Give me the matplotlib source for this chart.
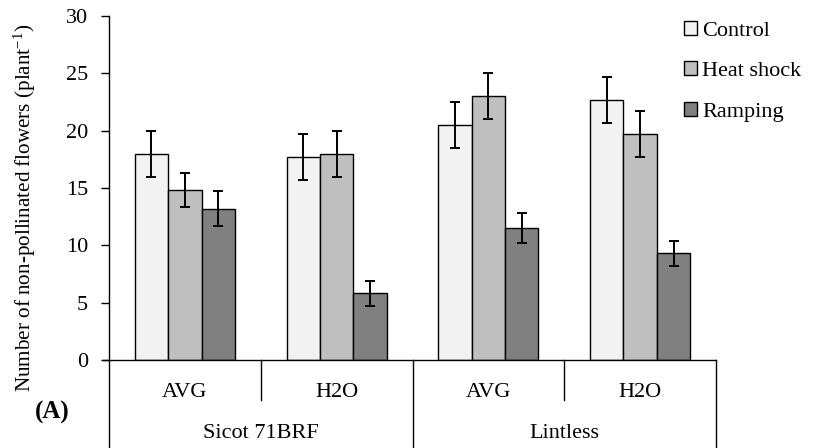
import matplotlib
matplotlib.use("Agg")
import matplotlib.pyplot as plt
from matplotlib.patches import Patch

plt.rcParams['font.family'] = ['Liberation Serif', 'DejaVu Serif']
plt.rcParams['mathtext.fontset'] = 'custom'
plt.rcParams['mathtext.rm'] = 'Liberation Serif'
plt.rcParams['mathtext.it'] = 'Liberation Serif'
plt.rcParams['mathtext.default'] = 'regular'

groups = ["AVG", "H2O", "AVG", "H2O"]
cultivars = ["Sicot 71BRF", "Lintless"]
series = ["Control", "Heat shock", "Ramping"]
control = [18.0, 17.7, 20.5, 22.7]
heat = [14.8, 18.0, 23.0, 19.7]
ramping = [13.2, 5.8, 11.5, 9.3]
control_err = [2.0, 2.0, 2.0, 2.0]
heat_err = [1.5, 2.0, 2.0, 2.0]
ramping_err = [1.5, 1.1, 1.3, 1.1]
yticks = [0, 5, 10, 15, 20, 25, 30]

colors = ["#F2F2F2", "#BFBFBF", "#808080"]
FS = 16

fig = plt.figure(figsize=(8.16, 4.48), dpi=100)
ax = fig.add_axes([109/816, 1-360/448, (716-109)/816, 344/448])

w = 0.22
offs = [-w, 0, w]
vals = [control, heat, ramping]
errs = [control_err, heat_err, ramping_err]
x = list(range(len(groups)))
for i in range(3):
    xs = [xi + offs[i] for xi in x]
    ax.bar(xs, vals[i], width=w, color=colors[i], edgecolor='black', linewidth=1.0, zorder=2)
    ax.errorbar(xs, vals[i], yerr=errs[i], fmt='none', ecolor='black',
                elinewidth=1.4, capsize=3.8, capthick=1.4, zorder=3)

ax.set_xlim(-0.5, 3.5)
ax.set_ylim(0, 30)
ax.set_yticks(yticks)
ax.tick_params(axis='y', direction='out', length=6, width=1, labelsize=FS, pad=9)
ax.set_xticks([])
for s in ['top', 'right', 'bottom']:
    ax.spines[s].set_visible(False)
ax.spines['left'].set_linewidth(1)

px = 30/344.0  # data units per pixel
ybot = -90 * px
yinner = -40 * px
ax.plot([-0.5 - 6/152, 3.5], [0, 0], color='black', lw=1, clip_on=False, zorder=4)
ax.plot([-0.5, -0.5], [0, ybot], color='black', lw=1, clip_on=False)
for xv in [1.5, 3.5]:
    ax.plot([xv, xv], [0, ybot], color='black', lw=1, clip_on=False)
for xv in [0.5, 2.5]:
    ax.plot([xv, xv], [0, yinner], color='black', lw=1, clip_on=False)
for xi, g in zip(x, groups):
    ax.text(xi, -32*px, g, ha='center', va='center', fontsize=FS, clip_on=False)
for ci, c in enumerate(cultivars):
    ax.text(0.5 + 2*ci, -73*px, c, ha='center', va='center', fontsize=FS, clip_on=False)

fig.text(25/816, 1-208/448, "Number of non-pollinated flowers (plant$^{-1}$)",
         fontsize=15.2, rotation=90, ha='center', va='center')

fig.text(52/816, 1-412/448, "(A)", fontsize=18, fontweight='bold', ha='center', va='center')

handles = [Patch(facecolor=colors[i], edgecolor='black', linewidth=1) for i in range(3)]
fig.legend(handles, series, loc='upper left', bbox_to_anchor=(684/816, 1-21/448),
           frameon=False, fontsize=FS, handlelength=0.6, handleheight=0.6,
           handletextpad=0.22, labelspacing=0.92, borderaxespad=0, borderpad=0)

fig.savefig("out.png", dpi=100)
